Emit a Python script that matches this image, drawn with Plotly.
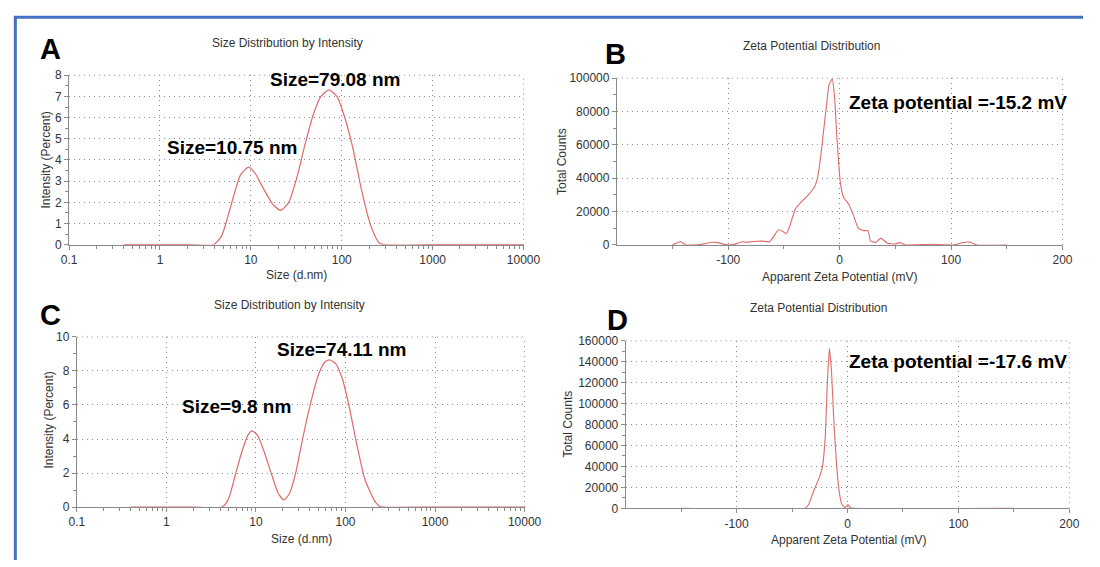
import plotly.graph_objects as go

# ---------------- data ----------------
# Panel A: size distribution by intensity
size_a = [0.4, 1, 2, 3.86, 4.73, 5.57, 6.55, 7.71, 9.45, 11.1, 13.6, 17.4, 21.3, 26.1, 32, 39.2,
          48.1, 58.9, 72.2, 88.5, 104, 133, 163, 200, 230, 260, 290, 1000, 10000]
int_a = [0, 0, 0, 0, 0.38, 1.31, 2.38, 3.31, 3.66, 3.38, 2.69, 1.92, 1.62, 2.0, 3.15, 4.69,
         6.08, 7.0, 7.31, 7.0, 6.23, 4.54, 2.69, 1.15, 0.45, 0.08, 0, 0, 0]

# Panel C: size distribution by intensity
size_c = [0.4, 1, 2, 4.22, 4.97, 5.86, 6.9, 8.15, 9.06, 10.4, 12.3, 15.1, 17.8, 20.5, 23.7, 27.9,
          33, 40.5, 49.7, 58.6, 66.2, 78.1, 92, 108.6, 133, 164, 190, 215, 240, 260, 1000, 10000]
int_c = [0, 0, 0, 0, 0.51, 1.85, 3.18, 4.23, 4.48, 4.23, 3.28, 1.85, 0.8, 0.42, 0.8, 2.04,
         3.94, 6.04, 7.75, 8.51, 8.65, 8.42, 7.56, 6.04, 3.75, 1.66, 0.85, 0.3, 0.05, 0, 0, 0]

# Panel B: zeta potential distribution
zeta_b = [-150, -143, -138, -132.8, -124, -115, -109.4, -103.5, -99, -94.7, -87.4, -83, -77, -69.8,
          -63, -59, -55, -51.3, -47.8, -44.9, -39.6, -34.6, -28.7, -22.9, -19.9, -17, -14.1, -11.1,
          -9.7, -6.7, -4.7, -2.3, 0.6, 3.5, 7.9, 12.3, 16.7, 21.1, 25.5, 27.6, 32.3, 37, 43, 49.5,
          54, 59, 82, 103, 110.7, 117, 123, 150]
counts_b = [0, 2100, 0, 0, 400, 1600, 1400, 400, 0, 400, 1900, 1600, 2100, 2300,
            1900, 5300, 9100, 8200, 6800, 11100, 21800, 25700, 29600, 34400, 40300, 52900, 70400, 88000,
            95700, 99600, 89900, 62700, 37400, 28600, 24700, 17900, 10100, 8600, 8600, 2500, 1500, 4100, 1000, 600,
            1400, 0, 400, 0, 1500, 1700, 0, 0]

# Panel D: zeta potential distribution
zeta_d = [-150, -38.2, -35, -30.4, -25.7, -22.6, -20, -18.2, -16.3, -14.4, -12.5, -10, -7.5, -5,
          -2.2, 0.3, 2.5, 5.6, 150]
counts_d = [0, 0, 3700, 16800, 28600, 39500, 69000, 118700, 152900, 131100, 87600, 44100, 16200, 3700,
            600, 3700, 600, 0, 0]

size_ticks = [0.1, 1, 10, 100, 1000, 10000]
size_ticktext = ["0.1", "1", "10", "100", "1000", "10000"]
size_minor = [m * 10 ** k for k in range(-1, 4) for m in range(2, 10)]
zeta_ticks = [-100, 0, 100, 200]
zeta_ticktext = ["-100", "0", "100", "200"]
zeta_minor = [-150, -50, 50, 150]

titles = ["Size Distribution by Intensity", "Zeta Potential Distribution",
          "Size Distribution by Intensity", "Zeta Potential Distribution"]
letters = ["A", "B", "C", "D"]
ytitles = ["Intensity (Percent)", "Total Counts", "Intensity (Percent)", "Total Counts"]
xtitles = ["Size (d.nm)", "Apparent Zeta Potential (mV)", "Size (d.nm)", "Apparent Zeta Potential (mV)"]
labels = ["Size=79.08 nm", "Size=10.75 nm", "Zeta potential =-15.2 mV",
          "Size=74.11 nm", "Size=9.8 nm", "Zeta potential =-17.6 mV"]

# ---------------- style ----------------
FONT = "Arial, Liberation Sans, sans-serif"
RED = "#DE6A6A"
GRID = "#8c8c8c"
AXIS = "#8a8a8a"
TXT = "#333333"
DASH = "1px,4px"

fig = go.Figure()
fig.add_trace(go.Scatter(x=size_a, y=int_a, mode="lines", line=dict(color=RED, width=1.2, shape="spline", smoothing=0.6),
                         xaxis="x", yaxis="y", showlegend=False))
fig.add_trace(go.Scatter(x=zeta_b, y=counts_b, mode="lines", line=dict(color=RED, width=1.1, shape="spline", smoothing=0.4),
                         xaxis="x2", yaxis="y2", showlegend=False))
fig.add_trace(go.Scatter(x=size_c, y=int_c, mode="lines", line=dict(color=RED, width=1.2, shape="spline", smoothing=0.6),
                         xaxis="x3", yaxis="y3", showlegend=False))
fig.add_trace(go.Scatter(x=zeta_d, y=counts_d, mode="lines", line=dict(color=RED, width=1.1, shape="spline", smoothing=0.4),
                         xaxis="x4", yaxis="y4", showlegend=False))

common = dict(showline=True, linecolor=AXIS, linewidth=1, ticks="outside", ticklen=4, tickcolor=AXIS,
              showgrid=True, gridcolor=GRID, gridwidth=1, griddash=DASH, zeroline=False,
              tickfont=dict(family=FONT, size=12, color=TXT), fixedrange=True)

def minor(vals=None, dtick=None):
    d = dict(ticks="outside", ticklen=3, tickcolor=AXIS, showgrid=False)
    if vals is not None:
        d.update(tickmode="array", tickvals=vals)
    else:
        d.update(dtick=dtick)
    return d

dom = {
    "A": ([0.05682, 0.47955], [0.57019, 0.87654]),
    "B": ([0.56636, 0.98091], [0.56966, 0.87125]),
    "C": ([0.06400, 0.48055], [0.09577, 0.40335]),
    "D": ([0.57455, 0.98727], [0.09347, 0.39630]),
}

fig.update_layout(
    xaxis=dict(common, type="log", range=[-1, 4], domain=dom["A"][0], anchor="y",
               tickmode="array", tickvals=size_ticks, ticktext=size_ticktext, minor=minor(size_minor)),
    yaxis=dict(common, range=[0, 8], domain=dom["A"][1], anchor="x", dtick=1, minor=minor(dtick=0.5)),
    xaxis2=dict(common, range=[-200, 200], domain=dom["B"][0], anchor="y2",
                tickmode="array", tickvals=zeta_ticks, ticktext=zeta_ticktext, minor=minor(zeta_minor)),
    yaxis2=dict(common, range=[0, 100000], domain=dom["B"][1], anchor="x2", dtick=20000, tickformat="d",
                minor=minor(dtick=10000)),
    xaxis3=dict(common, type="log", range=[-1, 4], domain=dom["C"][0], anchor="y3",
                tickmode="array", tickvals=size_ticks, ticktext=size_ticktext, minor=minor(size_minor)),
    yaxis3=dict(common, range=[0, 10], domain=dom["C"][1], anchor="x3", dtick=2, minor=minor(dtick=1)),
    xaxis4=dict(common, range=[-200, 200], domain=dom["D"][0], anchor="y4",
                tickmode="array", tickvals=zeta_ticks, ticktext=zeta_ticktext, minor=minor(zeta_minor)),
    yaxis4=dict(common, range=[0, 160000], domain=dom["D"][1], anchor="x4", dtick=20000, tickformat="d",
                minor=minor(dtick=10000)),
    width=1100, height=567, margin=dict(l=0, r=0, t=0, b=0),
    paper_bgcolor="white", plot_bgcolor="white", showlegend=False,
)

anns = []
def txt(s, x, y, size=12, bold=False, color=TXT, angle=0):
    anns.append(dict(text=f"<b>{s}</b>" if bold else s, x=x, y=y, xref="paper", yref="paper",
                     xanchor="center", yanchor="middle", showarrow=False, textangle=angle,
                     font=dict(family=FONT, size=size, color=color)))

# titles
txt(titles[0], 0.2597, 0.93474)
txt(titles[1], 0.74727, 0.92945)
txt(titles[2], 0.26182, 0.46032)
txt(titles[3], 0.75391, 0.45503)
# panel letters
txt(letters[0], 0.03909, 0.9235, 29, True, "black")
txt(letters[1], 0.5650, 0.9155, 29, True, "black")
txt(letters[2], 0.03909, 0.4427, 29, True, "black")
txt(letters[3], 0.56727, 0.4348, 29, True, "black")
# axis titles
txt(ytitles[0], 0.03573, 0.72310, angle=-90)
txt(ytitles[1], 0.51527, 0.72134, angle=-90)
txt(ytitles[2], 0.03727, 0.25220, angle=-90)
txt(ytitles[3], 0.52182, 0.24691, angle=-90)
txt(xtitles[0], 0.26855, 0.51499)
txt(xtitles[1], 0.77336, 0.51146)
txt(xtitles[2], 0.27273, 0.03880)
txt(xtitles[3], 0.78145, 0.03527)
# value labels
txt(labels[0], 0.30409, 0.86949, 19, True, "black")
txt(labels[1], 0.20818, 0.74603, 19, True, "black")
txt(labels[2], 0.88345, 0.82716, 19, True, "black")
txt(labels[3], 0.31000, 0.38148, 19, True, "black")
txt(labels[4], 0.21218, 0.27690, 19, True, "black")
txt(labels[5], 0.88364, 0.35979, 19, True, "black")
fig.update_layout(annotations=anns)

# dotted grid lines along the top and right edges of each plot area
for xa, ya in [("x", "y"), ("x2", "y2"), ("x3", "y3"), ("x4", "y4")]:
    fig.add_shape(type="line", xref=f"{xa} domain", yref=f"{ya} domain", x0=0, x1=1, y0=1, y1=1,
                  line=dict(color=GRID, width=1, dash=DASH), layer="below")
    fig.add_shape(type="line", xref=f"{xa} domain", yref=f"{ya} domain", x0=1, x1=1, y0=0, y1=1,
                  line=dict(color=GRID, width=1, dash=DASH), layer="below")

# blue frame (top and left edges)
BLUE = "#4472C4"
fig.add_shape(type="line", xref="paper", yref="paper", x0=0.0055, x1=1, y0=0.98148, y1=0.98148,
              line=dict(color=BLUE, width=3))
fig.add_shape(type="line", xref="paper", yref="paper", x0=0.00682, x1=0.00682, y0=0, y1=0.9832,
              line=dict(color=BLUE, width=3))

fig.write_html("out.html")
